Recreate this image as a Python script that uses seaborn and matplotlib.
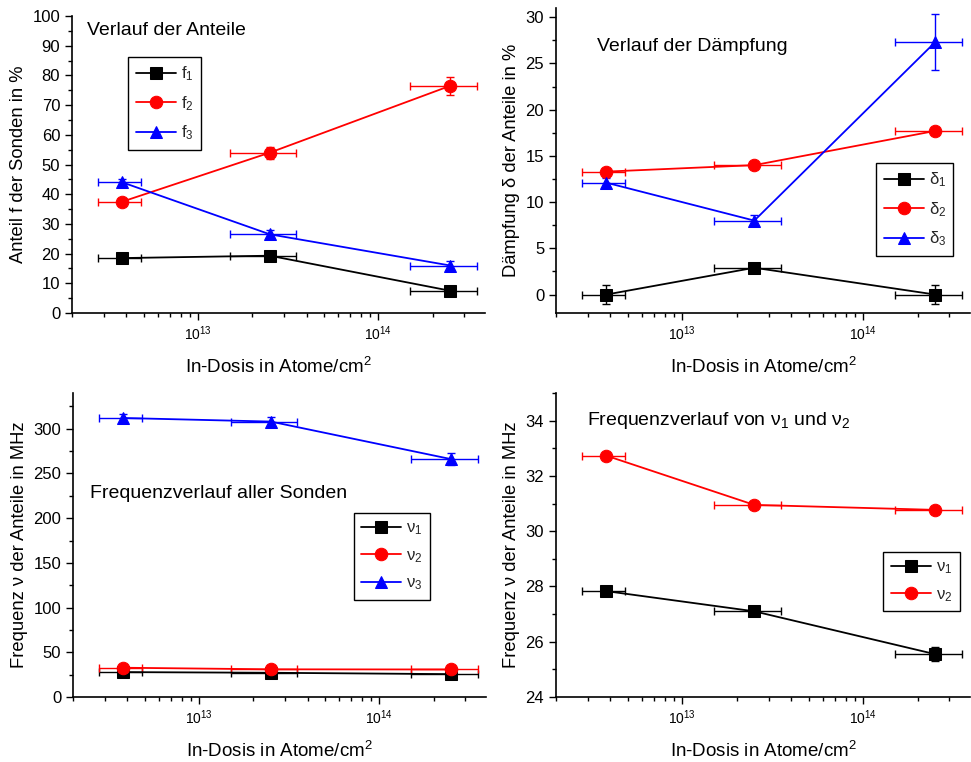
import numpy as np
import pandas as pd
import matplotlib
matplotlib.use("Agg")
import matplotlib.pyplot as plt
import seaborn as sns
from matplotlib.ticker import MultipleLocator, LogLocator, NullFormatter

sns.set_theme(style="ticks")
plt.rcParams['font.family'] = ['Liberation Sans', 'DejaVu Sans']
plt.rcParams['mathtext.fontset'] = 'custom'
plt.rcParams['mathtext.rm'] = 'Liberation Sans'
plt.rcParams['mathtext.it'] = 'Liberation Sans'
plt.rcParams['mathtext.default'] = 'regular'

# ---- data ----
dose = [3.8e12, 2.5e13, 2.5e14]
dose_err = [1.0e12, 1.0e13, 1.0e14]

f1 = [18.5, 19.3, 7.5]
f1_err = [1.0, 1.0, 1.0]
f2 = [37.5, 54.0, 76.5]
f2_err = [1.0, 2.0, 3.0]
f3 = [44.0, 26.5, 16.0]
f3_err = [1.0, 1.5, 1.5]

d1 = [0.0, 2.9, 0.0]
d1_err = [1.0, 0.3, 1.0]
d2 = [13.3, 14.0, 17.7]
d2_err = [0.3, 0.3, 0.3]
d3 = [12.1, 8.0, 27.3]
d3_err = [0.5, 0.6, 3.0]

nu1 = [27.83, 27.1, 25.55]
nu1_err = [0.1, 0.1, 0.25]
nu2 = [32.73, 30.95, 30.77]
nu2_err = [0.1, 0.05, 0.05]
nu3 = [312.0, 308.0, 266.0]
nu3_err = [4.0, 5.0, 7.0]

titles = ["Verlauf der Anteile", "Verlauf der Dämpfung",
          "Frequenzverlauf aller Sonden", "Frequenzverlauf von ν$_1$ und ν$_2$"]
ylabels = ["Anteil f der Sonden in %", "Dämpfung δ der Anteile in %",
           "Frequenz ν der Anteile in MHz", "Frequenz ν der Anteile in MHz"]
xlabel = "In-Dosis in Atome/cm$^2$"

colors = ["#000000", "#FF0000", "#0000FF"]
markers = ["s", "o", "^"]
msizes = [8, 9, 9]

panels = [
    dict(series=[(f1, f1_err, "f$_1$"), (f2, f2_err, "f$_2$"), (f3, f3_err, "f$_3$")],
         ylim=(0, 100), major=10, minor=5,
         pos=[0.0742, 0.5892, 0.4253, 0.3898], leg=(0.136, 0.862), txt=(0.036, 0.95)),
    dict(series=[(d1, d1_err, "δ$_1$"), (d2, d2_err, "δ$_2$"), (d3, d3_err, "δ$_3$")],
         ylim=(-2, 31), major=5, minor=2.5,
         pos=[0.5726, 0.5892, 0.4264, 0.4003], leg=(0.773, 0.492), txt=(0.099, 0.875)),
    dict(series=[(nu1, nu1_err, "ν$_1$"), (nu2, nu2_err, "ν$_2$"), (nu3, nu3_err, "ν$_3$")],
         ylim=(0, 340), major=50, minor=25,
         pos=[0.0752, 0.0853, 0.4253, 0.399], leg=(0.680, 0.605), txt=(0.041, 0.668)),
    dict(series=[(nu1, nu1_err, "ν$_1$"), (nu2, nu2_err, "ν$_2$")],
         ylim=(24, 35), major=2, minor=1,
         pos=[0.5726, 0.0853, 0.4264, 0.399], leg=(0.79, 0.477), txt=(0.075, 0.911)),
]

fig = plt.figure(figsize=(9.71, 7.62), dpi=100)

for i, p in enumerate(panels):
    ax = fig.add_axes(p["pos"])
    for j, (vals, errs, lab) in enumerate(p["series"]):
        df = pd.DataFrame({"x": dose, "y": vals})
        ax.errorbar(dose, vals, xerr=dose_err, yerr=errs, fmt="none",
                    ecolor=colors[j], elinewidth=1.0, capsize=3, capthick=1.0, zorder=2)
        sns.lineplot(data=df, x="x", y="y", ax=ax, color=colors[j], marker=markers[j],
                     markersize=msizes[j], markeredgecolor=colors[j], linewidth=1.3,
                     label=lab, zorder=3)
    ax.set_xscale("log")
    ax.set_xlim(2e12, 3.9e14)
    ax.set_ylim(*p["ylim"])
    ax.yaxis.set_major_locator(MultipleLocator(p["major"]))
    ax.yaxis.set_minor_locator(MultipleLocator(p["minor"]))
    ax.xaxis.set_major_locator(LogLocator(base=10, numticks=10))
    ax.xaxis.set_minor_locator(LogLocator(base=10, subs=np.arange(2, 10), numticks=20))
    ax.xaxis.set_minor_formatter(NullFormatter())
    sns.despine(ax=ax)
    for s in ["left", "bottom"]:
        ax.spines[s].set_color("black")
        ax.spines[s].set_linewidth(1.2)
    ax.tick_params(axis="both", which="major", direction="out", length=5, width=1.0,
                   color="black", labelcolor="black")
    ax.tick_params(axis="both", which="minor", direction="out", length=3, width=1.0,
                   color="black")
    ax.tick_params(axis="y", labelsize=12)
    ax.tick_params(axis="x", labelsize=10)
    ax.set_xlabel(xlabel, fontsize=13.5, color="black", labelpad=10)
    ax.set_ylabel(ylabels[i], fontsize=13.2, color="black", labelpad=4)
    ax.text(p["txt"][0], p["txt"][1], titles[i], transform=ax.transAxes,
            fontsize=14, ha="left", va="center", color="black")
    leg = ax.legend(loc="upper left", bbox_to_anchor=p["leg"], fontsize=12,
                    frameon=True, fancybox=False, framealpha=1, edgecolor="black",
                    handlelength=2.4, labelspacing=0.65, borderpad=0.45,
                    handletextpad=0.3, borderaxespad=0)
    leg.get_frame().set_linewidth(1.0)

fig.savefig("out.png", dpi=100)
